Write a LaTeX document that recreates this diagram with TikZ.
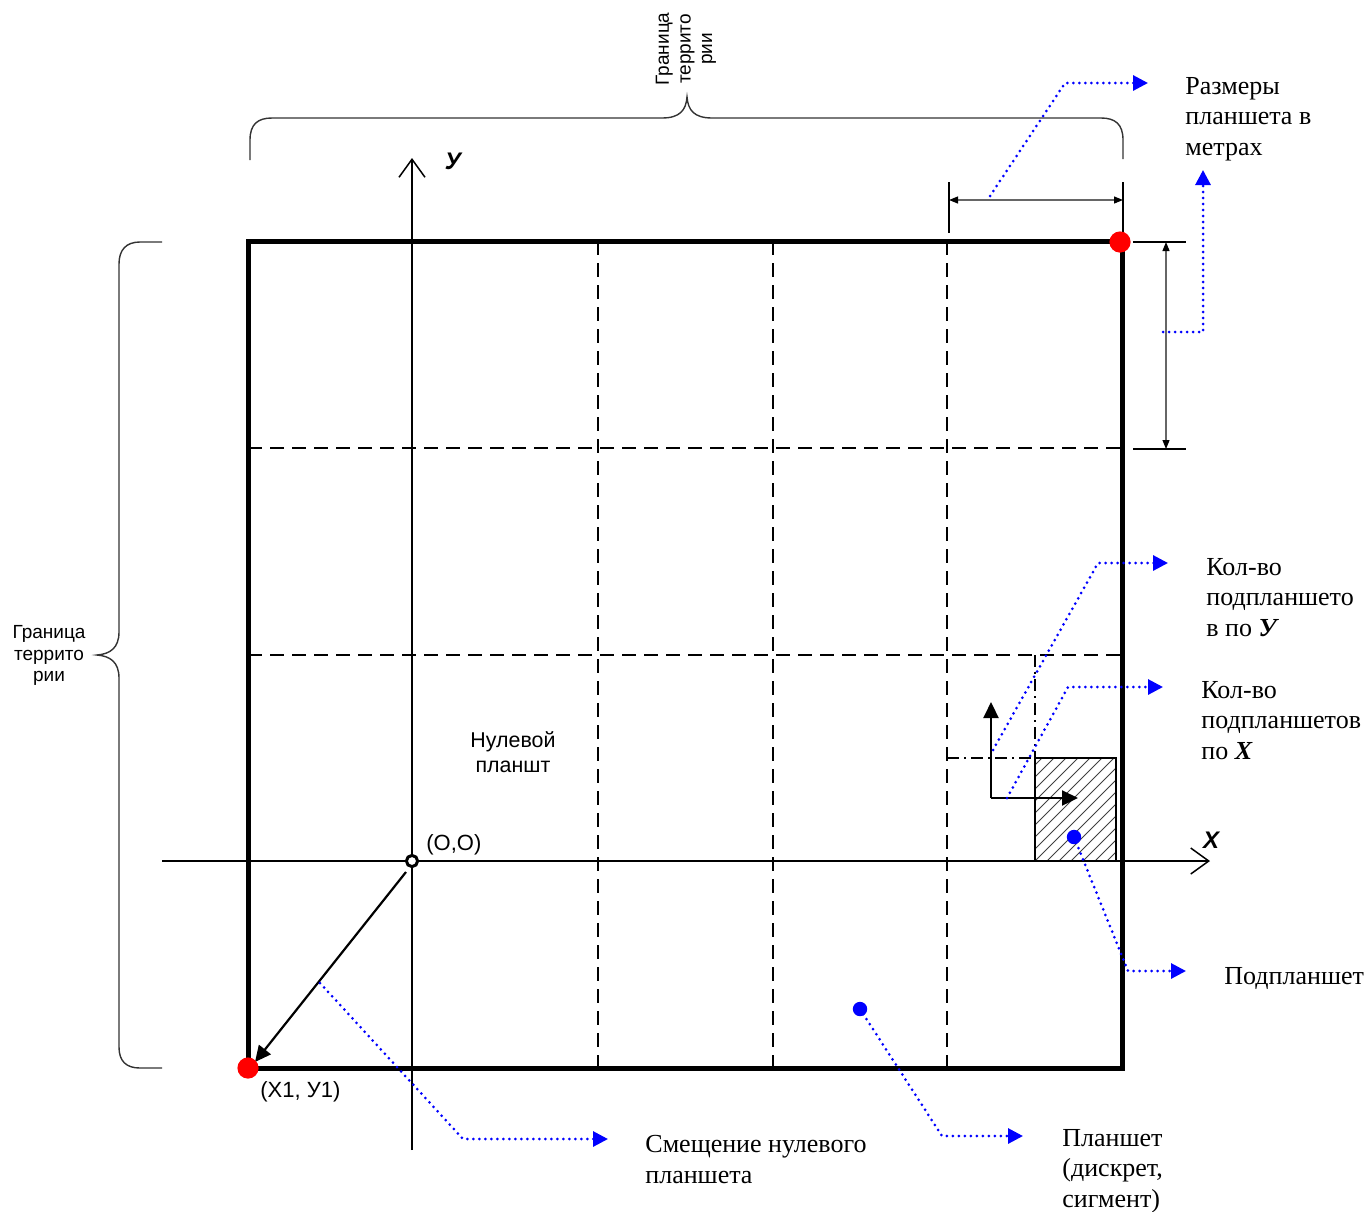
\documentclass[tikz,border=0pt]{standalone}
\usepackage{fontspec}
\setmainfont{Liberation Sans}
\newfontfamily\tnr{Liberation Serif}
\usetikzlibrary{arrows.meta}
\begin{document}
\begin{tikzpicture}[x=0.5pt,y=-0.5pt,
  frame/.style={line width=2.5pt, line cap=rect},
  gridline/.style={line width=0.75pt, dash pattern=on 7pt off 4pt},
  dashdot/.style={line width=0.7pt, dash pattern=on 6pt off 2.5pt on 1pt off 2.5pt},
  axis/.style={line width=0.75pt, -{Straight Barb[length=9pt,width=13pt,line width=0.75pt]}},
  callout/.style={blue, line width=1.5pt, line cap=round, dash pattern=on 0pt off 3pt, -{Triangle[length=7.5pt,width=7.5pt,line cap=butt]}},
  dimline/.style={line width=0.6pt, black!60, {Triangle[length=4.5pt,width=3.5pt,black]}-{Triangle[length=4.5pt,width=3.5pt,black]}},
  extline/.style={line width=0.6pt},
  brace/.style={line width=0.7pt, black!80},
  bigarrow/.style={line width=1.1pt, -{Triangle[length=8pt,width=7.5pt]}},
  serif/.style={font=\tnr\fontsize{13}{15.25}\selectfont, align=left, inner sep=0pt, anchor=north west},
  sanslabel/.style={font=\fontsize{10.7}{12.5}\selectfont, align=center, inner sep=0pt},
  smallsans/.style={font=\fontsize{9.5}{10.8}\selectfont, align=center, inner sep=0pt},
  axislabel/.style={font=\fontsize{12}{14}\selectfont\bfseries\itshape, inner sep=0pt},
  reddot/.style={fill=red, draw=none},
  bluedot/.style={fill=blue, draw=none}
]
\useasboundingbox (0,0) rectangle (1369,1211);

% key coordinates
\coordinate (BL) at (248,1068);
\coordinate (TR) at (1122,241);
\coordinate (O) at (412,861);

% grid
\draw[gridline] (598,241) -- (598,1068);
\draw[gridline] (773,241) -- (773,1068);
\draw[gridline] (947,241) -- (947,1068);
\draw[gridline] (248,448) -- (1122,448);
\draw[gridline] (248,655) -- (1035,655) -- (1122,655);

% sub-tablet
\begin{scope}
  \clip (1035,758) rectangle (1116,861);
  \foreach \i in {930,942,...,1130} \draw[line width=0.5pt, black!75] (\i,870) -- (\i+120,750);
\end{scope}
\draw[line width=0.6pt] (1035,758) rectangle (1116,861);
\draw[dashdot] (947,758) -- (1035,758);
\draw[dashdot] (1035,655) -- (1035,758);

% axes
\draw[axis] (162,861) -- (1210,861) coordinate (Xend);
\draw[axis] (412,1150) -- (412,158) coordinate (Yend);
\node[axislabel] (xl) at (1211,840) {X};
\node[axislabel] (yl) at (453,161) {У};

% frame
\draw[frame] (BL) rectangle (TR);

% braces
\draw[brace] (250,160) -- (250,140) .. controls (250,124) and (258,118) .. (272,118) -- (662,118)
  .. controls (680,118) and (686,110) .. (687,97) .. controls (688,110) and (694,118) .. (712,118)
  -- (1101,118) .. controls (1115,118) and (1123,124) .. (1123,140) -- (1123,159);
\draw[brace] (162,242) -- (140,242) .. controls (126,242) and (119,250) .. (119,264) -- (119,632)
  .. controls (119,648) and (110,654) .. (97,655) .. controls (110,656) and (119,662) .. (119,678)
  -- (119,1047) .. controls (119,1061) and (126,1068) .. (140,1068) -- (162,1068);
\node[smallsans, rotate=90] (topbr) at (686,49) {Граница\\террито\\рии};
\node[smallsans, anchor=north] (leftbr) at (49,625) {Граница\\террито\\рии};

% dimensions
\draw[extline] (949,182) -- (949,233);
\draw[extline] (1123,182) -- (1123,233);
\draw[dimline] (949,200) -- (1123,200);
\draw[extline] (1133,242) -- (1186,242);
\draw[line width=1pt] (1133,449) -- (1186,449);
\draw[dimline] (1166,242) -- (1166,449);

% labels in field
\node[sanslabel, anchor=north] (zero) at (513,731) {Нулевой\\планшт};
\node[sanslabel, font=\fontsize{11}{13}\selectfont, anchor=base west] (ool) at (426,850) {(O,O)};
\node[sanslabel, font=\fontsize{11}{13}\selectfont, anchor=base west] (x1l) at (260,1097) {(X1, У1)};

% offset arrow
\draw[bigarrow] (406,872) -- (255,1062);

% sub-tablet arrows
\coordinate (ar0) at (991,798);
\draw[bigarrow] (ar0) -- (991,702);
\draw[bigarrow] (ar0) -- (1078,798);

% dots
\fill[reddot] (BL) circle[radius=5.3pt];
\fill[reddot] (1120,242) circle[radius=5.3pt];
\draw[line width=1.5pt, fill=white] (O) circle[radius=2.8pt];
\coordinate (pd) at (860,1009);
\coordinate (sd) at (1074,837);
\fill[bluedot] (pd) circle[radius=3.6pt];
\fill[bluedot] (sd) circle[radius=3.6pt];

% text labels
\node[serif] (razm) at (1185,77) {Размеры\\планшета в\\метрах};
\node[serif] (koly) at (1206,558) {Кол-во\\подпланшето\\в по \textbf{\textit{У}}};
\node[serif] (kolx) at (1201,681) {Кол-во\\подпланшетов\\по \textbf{\textit{X}}};
\node[serif] (podp) at (1224,967) {Подпланшет};
\node[serif] (plan) at (1062,1129) {Планшет\\(дискрет,\\сигмент)};
\node[serif] (smesh) at (645,1135) {Смещение нулевого\\планшета};

% callouts
\draw[callout] (990,196) -- (1065,83) -- (1148,83);
\draw[callout] (1163,332) -- (1203,332) -- (1203,170);
\draw[callout] (993,750) -- (1098,563) -- (1168,563);
\draw[callout] (1007,798) -- (1068,687) -- (1163,687);
\draw[callout] (sd) -- (1128,971) -- (1186,971);
\draw[callout] (pd) -- (942,1136) -- (1023,1136);
\draw[callout] (320,983) -- (463,1139) -- (608,1139);
\end{tikzpicture}
\end{document}
